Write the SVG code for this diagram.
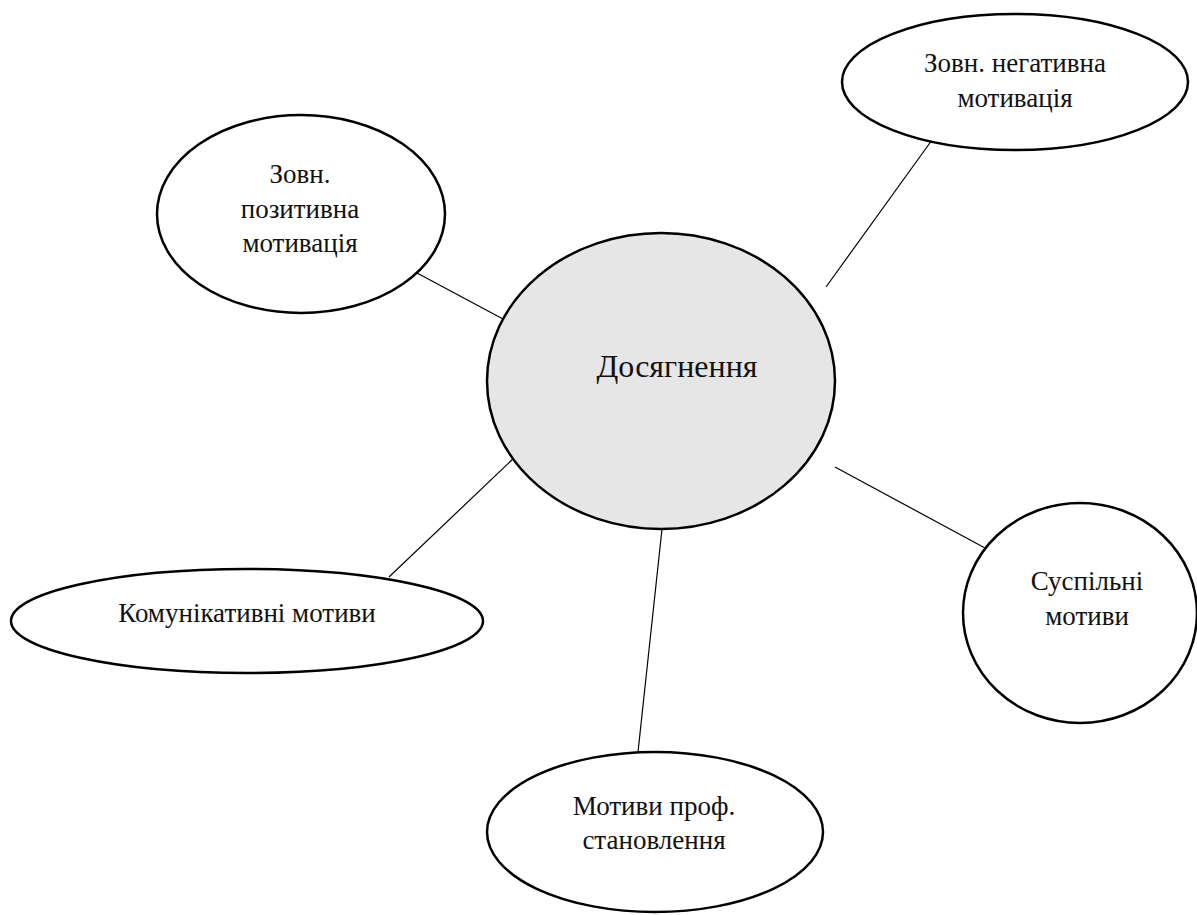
<svg xmlns="http://www.w3.org/2000/svg" width="1197" height="915" viewBox="0 0 1197 915">
  <style>
    .node { fill: #ffffff; stroke: #000000; stroke-width: 2.5; }
    .core { fill: #e6e6e6; stroke: #000000; stroke-width: 2.5; }
    .label { font-family: 'Liberation Serif', 'DejaVu Serif', serif; font-size: 27px; fill: #111111; text-anchor: middle; }
    .big { font-size: 32px; }
    .link { stroke: #000000; stroke-width: 1.2; fill: none; }
  </style>
  <rect x="0" y="0" width="1197" height="915" fill="#ffffff"/>

  <!-- spokes from the central ellipse -->
  <g id="connectors">
    <line class="link" x1="417" y1="273" x2="503" y2="319"/>
    <line class="link" x1="932" y1="140" x2="826" y2="287"/>
    <line class="link" x1="515" y1="457" x2="389" y2="577"/>
    <line class="link" x1="662" y1="529" x2="638" y2="752"/>
    <line class="link" x1="835" y1="467" x2="985" y2="548"/>
  </g>

  <g id="center">
    <ellipse class="core" cx="661" cy="381" rx="174" ry="148"/>
    <text class="label big" x="677" y="377">Досягнення</text>
  </g>

  <g id="ext-positive">
    <ellipse class="node" cx="301" cy="214" rx="144" ry="99"/>
    <text class="label" x="300" y="183">Зовн.</text>
    <text class="label" x="300" y="218">позитивна</text>
    <text class="label" x="300" y="252">мотивація</text>
  </g>

  <g id="ext-negative">
    <ellipse class="node" cx="1015" cy="82" rx="173" ry="68"/>
    <text class="label" x="1015" y="72">Зовн. негативна</text>
    <text class="label" x="1015" y="107">мотивація</text>
  </g>

  <g id="communicative">
    <ellipse class="node" cx="247" cy="621" rx="236" ry="52"/>
    <text class="label" x="247" y="622">Комунікативні мотиви</text>
  </g>

  <g id="social">
    <ellipse class="node" cx="1080" cy="613" rx="117" ry="110"/>
    <text class="label" x="1087" y="590">Суспільні</text>
    <text class="label" x="1087" y="625">мотиви</text>
  </g>

  <g id="professional">
    <ellipse class="node" cx="655" cy="832" rx="168" ry="80"/>
    <text class="label" x="654" y="815">Мотиви проф.</text>
    <text class="label" x="654" y="849">становлення</text>
  </g>
</svg>
